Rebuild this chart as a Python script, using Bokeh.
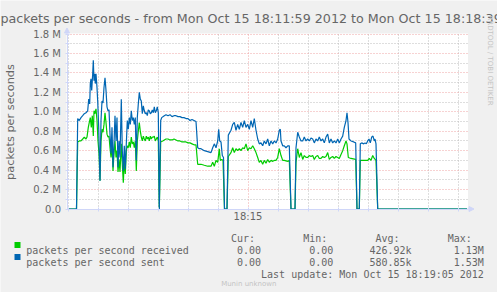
import math
from bokeh.plotting import figure
from bokeh.models import Range1d, FixedTicker, Label, BoxAnnotation, Arrow, NormalHead, Grid
from bokeh.embed import file_html
from bokeh.resources import INLINE

# time: seconds after 18:11:59 ; values: millions of packets per second
recv_t = [0, 9.5, 10.7, 12.3, 14, 15.7, 17.3, 19, 20, 21.3, 22.3, 23.3, 24.3, 25.3, 26.3, 27, 28, 29, 30, 31,
          32, 33, 34, 35, 36, 37, 38, 39, 40, 41, 42, 43, 44, 45, 46, 47, 48, 49, 50, 51, 52, 53, 54.3, 55.3,
          56.3, 57.3, 58.3, 59.3, 60.3, 61.3, 62.3, 63.3, 64.3, 65.3, 66.3, 67.3, 68.3, 69.3, 70.3, 71.3, 72.3,
          73.3, 74.3, 75.3, 76.3, 77.3, 78.3, 79.3, 80.3, 81.3, 82.3, 83.3, 84.3, 85.3, 86.3, 87.3, 88.3, 89.3,
          90.3, 91.3, 92.3, 93.7, 95.7, 97.3, 99, 101, 103, 105, 107, 109, 111, 113, 115, 117, 119, 121, 123,
          125, 127, 129, 130.7, 134, 137.3, 140.7, 144, 145.7, 147.3, 149, 150.7, 152.3, 153.3, 154.7, 156,
          157.5, 160, 161.3, 164, 165.7, 167.3, 169, 170.7, 172.3, 174, 175.7, 177.3, 179, 180.7, 182.3, 184,
          185.7, 187.3, 189, 190.7, 192.3, 194, 195.7, 197.3, 199, 200.7, 202.3, 204, 205.7, 207.3, 209, 210.7,
          212.3, 214, 215.7, 217.3, 220.7, 222.3, 224, 228, 229, 230.7, 232.3, 234, 235.7, 237.3, 239, 240.7,
          242.3, 244, 245.7, 247.3, 249, 250.7, 252.3, 254, 255.7, 257.3, 259, 260.7, 262.3, 264, 265.7, 267.3,
          269, 270.7, 272.3, 274, 275.7, 277.3, 279, 280, 281.3, 284, 288.7, 290, 292.3, 293.3, 295.7, 297.3,
          299, 300.7, 302.3, 304, 305.7, 307.3, 309, 310.7, 400]
recv_v = [0, 0, 0.69, 0.70, 0.70, 0.72, 0.74, 0.72, 0.74, 0.84, 0.89, 0.94, 0.84, 0.96, 0.75, 1.01, 0.98, 1.03,
          0.91, 0.70, 0.57, 0.29, 0.70, 0.82, 0.79, 0.87, 0.99, 0.89, 0.77, 0.74, 0.75, 0.63, 0.53, 0.67, 0.39,
          0.57, 0.70, 0.53, 0.60, 0.38, 0.51, 0.38, 0.67, 0.46, 0.27, 0.50, 0.36, 0.60, 0.65, 0.63, 0.69, 0.63,
          0.74, 0.67, 0.69, 0.63, 0.70, 0.39, 0.70, 0.80, 0.89, 0.80, 0.74, 0.70, 0.75, 0.72, 0.70, 0.75, 0.72,
          0.74, 0.70, 0.75, 0.72, 0.74, 0.74, 0.75, 0.70, 0.72, 0.74, 0.70, 0, 0.69, 0.70, 0.71, 0.72, 0.72,
          0.71, 0.71, 0.72, 0.71, 0.70, 0.70, 0.69, 0.69, 0.69, 0.68, 0.68, 0.67, 0.66, 0.66, 0.46, 0.46, 0.45,
          0.44, 0.44, 0.48, 0.44, 0.50, 0.48, 0.62, 0.50, 0.51, 0.50, 0, 0, 0.54, 0.58, 0.63, 0.58, 0.62, 0.60,
          0.62, 0.60, 0.63, 0.62, 0.67, 0.60, 0.63, 0.62, 0.65, 0.62, 0.58, 0.53, 0.48, 0.50, 0.46, 0.50, 0.47,
          0.51, 0.48, 0.50, 0.49, 0.50, 0.50, 0.53, 0.62, 0.55, 0.50, 0.50, 0.49, 0.50, 0, 0, 0.48, 0.62, 0.53,
          0.58, 0.51, 0.55, 0.53, 0.53, 0.55, 0.54, 0.55, 0.51, 0.54, 0.55, 0.52, 0.52, 0.54, 0.53, 0.54, 0.58,
          0.51, 0.53, 0.54, 0.52, 0.54, 0.53, 0.52, 0.56, 0.60, 0.65, 0.70, 0.67, 0.53, 0.52, 0.51, 0, 0, 0.50,
          0.50, 0.50, 0.50, 0.50, 0.52, 0.50, 0.55, 0.52, 0.50, 0, 0]

sent_t = [0, 9.5, 10.7, 12.3, 14, 15.7, 17.3, 19, 20.7, 21.7, 22.7, 23.3, 24, 24.7, 25.7, 26.3, 27, 27.7, 28.3,
          29, 30, 30.7, 31.7, 33, 34, 35, 36, 37, 38, 39, 40, 41, 42, 43, 44, 45, 46, 47, 48, 49, 50, 51, 52,
          53, 54.3, 55.3, 56.3, 57.3, 58.3, 59.3, 60.3, 61.3, 62.3, 63.3, 64.3, 65.3, 66.3, 67.3, 68.3, 69.3,
          70.3, 71.3, 72.3, 73.3, 74.3, 75.3, 76.3, 77.3, 78.3, 79.3, 80.3, 81.3, 82.3, 83.3, 84.3, 85.3, 86.3,
          87.3, 88.3, 89.3, 90.3, 91.3, 92.3, 93.7, 94.7, 97.3, 99, 101, 103, 105, 107, 109, 111, 113, 115, 117,
          119, 121, 123, 125, 127, 129, 130.7, 132.3, 134, 137.3, 140.7, 144, 145.7, 147.3, 149, 150.7, 151.7,
          152.7, 154, 155.3, 156.5, 157.5, 160, 161.3, 164, 165.7, 167.3, 169, 170.7, 172.3, 174, 175.7, 177.3,
          179, 180.7, 182.3, 184, 185.7, 187.3, 189, 190.7, 192.3, 194, 195.7, 197.3, 199, 200.7, 202.3, 204,
          205.7, 207.3, 209, 210.7, 212.3, 213.3, 214, 215.7, 217.3, 219, 220.7, 222.3, 224, 228, 229, 230.7,
          232.3, 234, 235.7, 237.3, 239, 240.7, 242.3, 244, 245.7, 247.3, 249, 250.7, 252.3, 254, 255.7, 257.3,
          259, 260.7, 262.3, 264, 265.7, 267.3, 269, 270.7, 272.3, 274, 275.7, 277.3, 279, 280, 281, 282, 284,
          286.7, 288.7, 290, 292.3, 293.3, 294.7, 296.7, 298, 299.3, 300.7, 302, 303.3, 304.7, 306, 307.3, 308,
          309, 310.7, 400]
sent_v = [0, 0, 0.93, 0.91, 0.94, 0.96, 0.98, 0.99, 1.01, 1.13, 1.08, 1.29, 1.34, 1.22, 1.39, 1.53, 1.32, 1.39,
          1.29, 1.39, 1.25, 1.11, 0.84, 0.29, 0.91, 1.11, 1.09, 1.25, 1.35, 1.22, 1.05, 1.01, 1.02, 0.77, 0.57,
          0.84, 0.43, 0.67, 0.96, 0.70, 0.94, 0.43, 0.70, 0.53, 1.13, 0.60, 0.39, 0.65, 0.41, 0.67, 0.91, 0.82,
          0.94, 0.87, 1.01, 0.91, 0.94, 0.87, 0.94, 0.50, 0.94, 1.08, 1.20, 1.13, 1.11, 0.98, 1.06, 1.01, 0.98,
          0.99, 0.96, 1.02, 1.01, 0.98, 0.99, 1.02, 0.99, 1.05, 0.99, 1.01, 1.05, 0.99, 0, 0.91, 0.94, 0.96,
          0.97, 0.96, 0.97, 0.95, 0.96, 0.96, 0.95, 0.95, 0.94, 0.94, 0.93, 0.93, 0.91, 0.92, 0.91, 0.90, 0.63,
          0.62, 0.62, 0.60, 0.59, 0.58, 0.63, 0.67, 0.63, 0.70, 0.82, 0.70, 0.69, 0.55, 0.53, 0, 0, 0.76, 0.81,
          0.87, 0.89, 0.81, 0.87, 0.82, 0.89, 0.84, 0.91, 0.84, 0.87, 0.82, 0.91, 0.84, 0.93, 0.81, 0.72, 0.67,
          0.68, 0.65, 0.70, 0.67, 0.72, 0.65, 0.70, 0.67, 0.70, 0.68, 0.72, 0.81, 0.82, 0.70, 0.65, 0.65, 0.63,
          0.65, 0.65, 0, 0, 0.63, 0.79, 0.74, 0.70, 0.70, 0.74, 0.70, 0.72, 0.70, 0.73, 0.72, 0.68, 0.72, 0.70,
          0.74, 0.70, 0.72, 0.68, 0.74, 0.77, 0.68, 0.72, 0.68, 0.70, 0.68, 0.72, 0.68, 0.72, 0.75, 0.84, 0.91,
          0.99, 0.89, 0.72, 0.70, 0.69, 0.68, 0, 0, 0.67, 0.68, 0.67, 0.68, 0.67, 0.70, 0.72, 0.68, 0.74, 0.75,
          0.70, 0.72, 0.67, 0, 0]

y_ticks = [0.0, 0.2, 0.4, 0.6, 0.8, 1.0, 1.2, 1.4, 1.6, 1.8]
y_tick_labels = ["0.0", "0.2 M", "0.4 M", "0.6 M", "0.8 M", "1.0 M", "1.2 M", "1.4 M", "1.6 M", "1.8 M"]
y_minor = [0.1, 0.3, 0.5, 0.7, 0.9, 1.1, 1.3, 1.5, 1.7]
x_ticks = [181]
x_tick_labels = ["18:15"]
x_minor = [1, 31, 61, 91, 121, 151, 211, 241, 271, 301, 331, 361, 391]
T_END = 400
Y_TOP = 1.8

title = "packets per seconds - from Mon Oct 15 18:11:59 2012 to Mon Oct 15 18:18:39"
y_label = "packets per seconds"
legend_names = ["packets per second received", "packets per second sent"]
legend_colors = ["#00CC00", "#0066B3"]
stat_headers = ["Cur:", "Min:", "Avg:", "Max:"]
recv_stats = ["0.00", "0.00", "426.92k", "1.13M"]
sent_stats = ["0.00", "0.00", "580.85k", "1.53M"]
last_update = "Last update: Mon Oct 15 18:19:05 2012"
watermark = "RRDTOOL / TOBI OETIKER"
footer = "Munin unknown"

FONT = "#666666"
AXIS = "#CFD6F8"
PX_PER_M = 175 / 1.8
W, H = 497, 292
X0_PX, Y0_PX = 66.5, 208.5   # where t=0 and value=0 sit on the canvas

p = figure(width=W, height=H, output_backend="svg", toolbar_location=None,
           x_range=Range1d(-X0_PX, W - X0_PX),
           y_range=Range1d(-(H - Y0_PX) / PX_PER_M, Y0_PX / PX_PER_M),
           min_border=0, min_border_left=0, min_border_right=0, min_border_top=0, min_border_bottom=0,
           background_fill_color="#F0F0F0", border_fill_color="#F0F0F0", outline_line_color=None)

# white canvas of the graph
p.add_layout(BoxAnnotation(left=-0.5, right=T_END + 1, bottom=0, top=Y_TOP + 0.5 / PX_PER_M,
                           fill_color="#FFFFFF", fill_alpha=1, line_color=None, level="image"))

# axes, drawn at the origin
p.yaxis.fixed_location = 0
p.yaxis.bounds = (0, Y_TOP)
p.xaxis.fixed_location = 0
p.xaxis.bounds = (0, T_END)
p.yaxis.ticker = FixedTicker(ticks=y_ticks, minor_ticks=y_minor)
p.yaxis.major_label_overrides = {v: s for v, s in zip(y_ticks, y_tick_labels)}
p.xaxis.ticker = FixedTicker(ticks=x_ticks, minor_ticks=x_minor)
p.xaxis.major_label_overrides = {v: s for v, s in zip(x_ticks, x_tick_labels)}
for ax in (p.xaxis[0], p.yaxis[0]):
    ax.axis_line_color = AXIS
    ax.major_label_text_font = "DejaVu Sans"
    ax.major_label_text_font_size = "10px"
    ax.major_label_text_color = FONT
    ax.major_tick_line_color = AXIS
    ax.minor_tick_line_color = AXIS
    ax.major_tick_in = 2
    ax.major_tick_out = 2
    ax.minor_tick_in = 2
    ax.minor_tick_out = 2
p.yaxis.major_label_standoff = 4
p.yaxis.axis_label = y_label
p.yaxis.axis_label_text_font = "DejaVu Sans"
p.yaxis.axis_label_text_font_size = "11.3px"
p.yaxis.axis_label_text_font_style = "normal"
p.yaxis.axis_label_text_color = FONT
p.yaxis.axis_label_standoff = 14
p.xaxis.major_label_standoff = 0

# grids (dotted, rrdtool style)
MAJOR_GRID = "#EFA5A5"
MINOR_GRID = "#BDBDBD"
DASH = "1 2"
has_cross = "cross_bounds" in Grid.properties()
if has_cross:
    p.ygrid.ticker = FixedTicker(ticks=y_ticks[1:], minor_ticks=y_minor)
    p.xgrid.ticker = FixedTicker(ticks=x_ticks, minor_ticks=x_minor)
    p.xgrid.cross_bounds = (0, Y_TOP)
    p.ygrid.cross_bounds = (0, T_END)
    p.xgrid.bounds = (0, T_END)
    p.ygrid.bounds = (0, Y_TOP)
    for g in (p.xgrid[0], p.ygrid[0]):
        g.grid_line_color = MAJOR_GRID
        g.grid_line_dash = DASH
        g.minor_grid_line_color = MINOR_GRID
        g.minor_grid_line_dash = DASH
else:
    p.xgrid.visible = False
    p.ygrid.visible = False
    p.segment(x0=x_minor, x1=x_minor, y0=[0] * len(x_minor), y1=[Y_TOP] * len(x_minor),
              line_color=MINOR_GRID, line_dash=DASH, line_width=1)
    p.segment(x0=[0] * len(y_minor), x1=[T_END] * len(y_minor), y0=y_minor, y1=y_minor,
              line_color=MINOR_GRID, line_dash=DASH, line_width=1)
    p.segment(x0=x_ticks, x1=x_ticks, y0=[0] * len(x_ticks), y1=[Y_TOP] * len(x_ticks),
              line_color=MAJOR_GRID, line_dash=DASH, line_width=1)
    p.segment(x0=[0] * (len(y_ticks) - 1), x1=[T_END] * (len(y_ticks) - 1), y0=y_ticks[1:], y1=y_ticks[1:],
              line_color=MAJOR_GRID, line_dash=DASH, line_width=1)

# axis arrows
p.add_layout(Arrow(end=NormalHead(size=5, fill_color=AXIS, line_color=AXIS), line_color=AXIS,
                   x_start=T_END, y_start=0, x_end=T_END + 7, y_end=0))
p.add_layout(Arrow(end=NormalHead(size=5, fill_color=AXIS, line_color=AXIS), line_color=AXIS,
                   x_start=0, y_start=Y_TOP, x_end=0, y_end=Y_TOP + 6 / PX_PER_M))

# data
p.line(recv_t, recv_v, line_color=legend_colors[0], line_width=1.2)
p.line(sent_t, sent_v, line_color=legend_colors[1], line_width=1.2)


def lab(text, x, y_from_top, size="10px", font="DejaVu Sans Mono", align="left", color=FONT, angle=0.0,
        baseline="alphabetic"):
    p.add_layout(Label(text=text, x=x, y=H - y_from_top, x_units="screen", y_units="screen",
                       text_font=font, text_font_size=size, text_align=align, text_color=color,
                       angle=angle, text_baseline=baseline))


lab(title, 0, 17.7, size="12.7px", font="DejaVu Sans")
lab(watermark, 489, 60, size="7px", font="DejaVu Sans", align="center", color="#C4C4C4",
    angle=-math.pi / 2, baseline="middle")

# legend block, laid out on a monospace grid like rrdtool
LEFT, CH = 25.8, 6.02
col = lambda c: LEFT + CH * c
hdr_cols = [34, 46, 58, 70]
val_end_cols = [39, 51, 64, 76]
for h, c in zip(stat_headers, hdr_cols):
    lab(h, col(c), 237.6)
rows_base = [249.6, 261.6]
for name, colr, stats, yb in zip(legend_names, legend_colors, [recv_stats, sent_stats], rows_base):
    lab(name, col(0), yb)
    for s, c in zip(stats, val_end_cols):
        lab(s, col(c), yb, align="right")
    p.add_layout(BoxAnnotation(left=14, right=20, top=H - (yb - 8), bottom=H - (yb - 2),
                               left_units="screen", right_units="screen", top_units="screen",
                               bottom_units="screen", fill_color=colr, fill_alpha=1, line_color=None))
lab(last_update, col(76), 273.6, align="right")
lab(footer, 248.3, 283.7, size="7px", font="DejaVu Sans", align="center", color="#C4C4C4")

open("out.html", "w").write(file_html(p, INLINE))
